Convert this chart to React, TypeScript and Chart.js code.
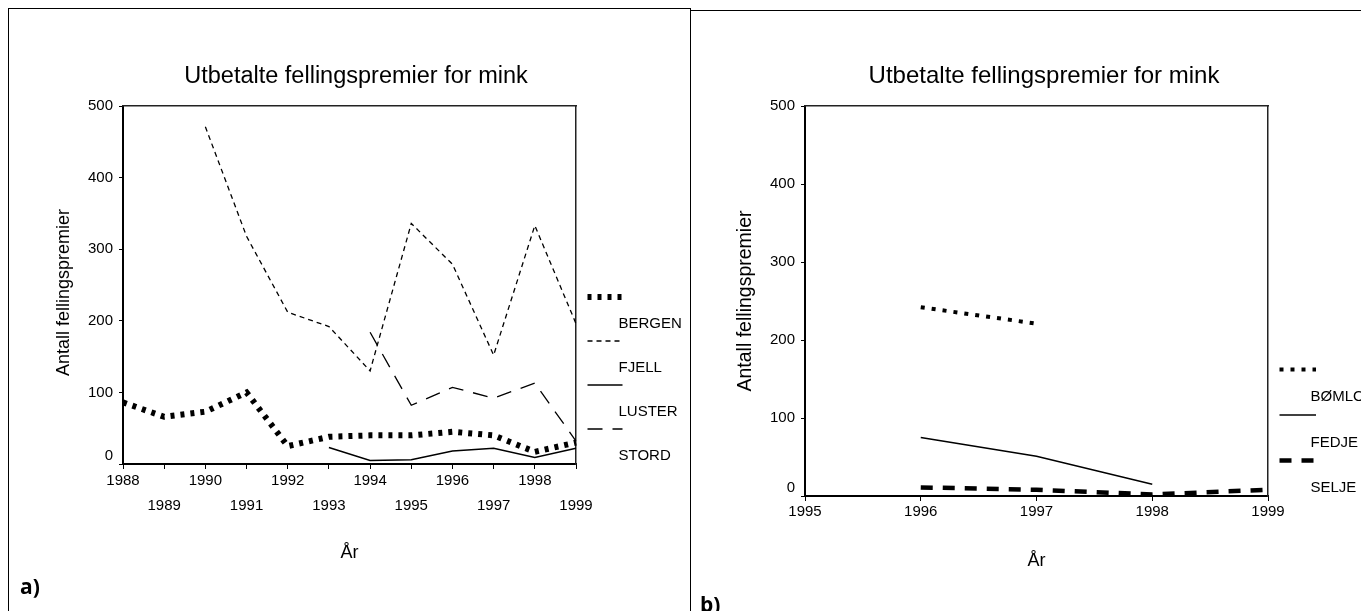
import React, { useEffect, useRef } from 'react';
import { Chart, registerables } from 'chart.js';

Chart.register(...registerables);

const FONT = "'Liberation Sans', Arial, Helvetica, sans-serif";
Chart.defaults.font.family = FONT;
Chart.defaults.color = '#000';

// ---------- texts ----------
const CHART_TITLE = 'Utbetalte fellingspremier for mink';
const Y_AXIS_TITLE = 'Antall fellingspremier';
const X_AXIS_TITLE = 'År';
const Y_MIN = 0;
const Y_MAX = 500;
const Y_STEP = 100;

// ---------- panel a) ----------
const yearsA = ['1988', '1989', '1990', '1991', '1992', '1993', '1994', '1995', '1996', '1997', '1998', '1999'];
const bergenA = [86, 66, 73, 100, 25, 38, 40, 40, 45, 40, 17, 30];
const fjellA = [null, null, 471, 318, 212, 192, 130, 336, 279, 152, 333, 196];
const lusterA = [null, null, null, null, null, 23, 5, 6, 18, 22, 9, 22];
const stordA = [null, null, null, null, null, null, 184, 82, 107, 92, 113, 32];

// ---------- panel b) ----------
const yearsB = ['1995', '1996', '1997', '1998', '1999'];
const bomloB = [null, 242, 221, null, null];
const fedjeB = [null, 75, 51, 15, null];
const seljeB = [null, 11, 8, 2, 8];

const sideLegend = {
  id: 'sideLegend',
  afterDraw(chart: any, _args: any, opts: any) {
    const { ctx, chartArea } = chart;
    const ds = chart.data.datasets;
    const n = ds.length;
    ctx.save();
    ctx.font = `${opts.fontSize}px ${FONT}`;
    ctx.fillStyle = '#000';
    ctx.textBaseline = 'middle';
    ctx.textAlign = 'left';
    ds.forEach((d: any, k: number) => {
      const labelY = chartArea.bottom - opts.bottomGap - (n - 1 - k) * opts.spacing;
      const sampleY = labelY - opts.sampleGap;
      const x0 = chartArea.right + opts.sampleStart;
      ctx.beginPath();
      ctx.setLineDash(d.borderDash || []);
      ctx.lineWidth = d.borderWidth;
      ctx.strokeStyle = d.borderColor;
      ctx.lineCap = 'butt';
      ctx.moveTo(x0, sampleY);
      ctx.lineTo(x0 + opts.sampleLength, sampleY);
      ctx.stroke();
      ctx.setLineDash([]);
      ctx.fillText(d.label, chartArea.right + opts.textStart, labelY);
    });
    ctx.restore();
  },
};

type Series = { label: string; data: (number | null)[]; width: number; dash: number[] };

type PanelCfg = {
  labels: string[];
  series: Series[];
  canvasW: number;
  canvasH: number;
  titleSize: number;
  titleTop: number;
  titleBottom: number;
  yWidth: number;
  yTitle: string;
  yTitleSize: number;
  yTitlePad: number;
  xHeight: number;
  xTickPad: number;
  xLineHeight: number;
  xTitlePad: number;
  twoRows: boolean;
  rightWidth: number;
  legend: any;
};

function buildConfig(p: PanelCfg): any {
  return {
    type: 'line',
    data: {
      labels: p.labels,
      datasets: p.series.map((s) => ({
        label: s.label,
        data: s.data,
        borderColor: '#000',
        backgroundColor: '#000',
        borderWidth: s.width,
        borderDash: s.dash,
        borderCapStyle: 'butt',
        pointRadius: 0,
        pointHoverRadius: 0,
        tension: 0,
        fill: false,
        spanGaps: false,
      })),
    },
    options: {
      responsive: false,
      animation: false,
      events: [],
      layout: { padding: 0 },
      plugins: {
        legend: { display: false },
        tooltip: { enabled: false },
        title: {
          display: true,
          text: CHART_TITLE,
          color: '#000',
          font: { size: p.titleSize, weight: 'normal', family: FONT },
          padding: { top: p.titleTop, bottom: p.titleBottom },
        },
        sideLegend: p.legend,
      },
      scales: {
        x: {
          type: 'category',
          position: 'bottom',
          offset: false,
          grid: { display: true, drawOnChartArea: false, drawTicks: true, tickLength: 5, color: '#000', lineWidth: 1 },
          border: { display: true, color: '#000', width: 2 },
          ticks: {
            autoSkip: false,
            maxRotation: 0,
            minRotation: 0,
            padding: p.xTickPad,
            color: '#000',
            font: { size: 15, lineHeight: p.xLineHeight },
            callback: (_v: any, i: number) => (p.twoRows && i % 2 === 1 ? ['', p.labels[i]] : p.labels[i]),
          },
          title: {
            display: true,
            text: X_AXIS_TITLE,
            color: '#000',
            font: { size: 18 },
            padding: { top: 0, bottom: p.xTitlePad },
          },
          afterFit: (s: any) => {
            s.height = p.xHeight;
          },
        },
        y: {
          type: 'linear',
          position: 'left',
          min: Y_MIN,
          max: Y_MAX,
          grid: { display: true, drawOnChartArea: false, drawTicks: true, tickLength: 4, color: '#000', lineWidth: 1 },
          border: { display: true, color: '#000', width: 2 },
          ticks: {
            stepSize: Y_STEP,
            padding: 6,
            color: '#000',
            font: { size: 15, lineHeight: 1.05 },
            // the zero label sits a little above the axis, as in the original
            callback: (v: any) => (v === 0 ? ['0', ''] : String(v)),
          },
          title: {
            display: true,
            text: p.yTitle,
            color: '#000',
            font: { size: p.yTitleSize },
            padding: { top: p.yTitlePad, bottom: 0 },
          },
          afterFit: (s: any) => {
            s.width = p.yWidth;
          },
        },
        xTop: {
          type: 'linear',
          position: 'top',
          grid: { display: false },
          ticks: { display: false },
          border: { display: true, color: '#222', width: 1.5 },
          afterFit: (s: any) => {
            s.height = 0;
          },
        },
        yRight: {
          type: 'linear',
          position: 'right',
          grid: { display: false },
          ticks: { display: false },
          border: { display: true, color: '#222', width: 1.5 },
          afterFit: (s: any) => {
            s.width = p.rightWidth;
          },
        },
      },
    },
    plugins: [sideLegend],
  };
}

function ChartCanvas({ cfg, left, top }: { cfg: PanelCfg; left: number; top: number }) {
  const ref = useRef<HTMLCanvasElement>(null);
  useEffect(() => {
    const chart = new Chart(ref.current as HTMLCanvasElement, buildConfig(cfg));
    return () => chart.destroy();
  }, []);
  return (
    <canvas
      ref={ref}
      width={cfg.canvasW}
      height={cfg.canvasH}
      style={{ position: 'absolute', left, top, width: cfg.canvasW, height: cfg.canvasH }}
    />
  );
}

const panelA: PanelCfg = {
  labels: yearsA,
  series: [
    { label: 'BERGEN', data: bergenA, width: 6, dash: [4, 6] },
    { label: 'FJELL', data: fjellA, width: 1.3, dash: [5, 4] },
    { label: 'LUSTER', data: lusterA, width: 1.5, dash: [] },
    { label: 'STORD', data: stordA, width: 1.3, dash: [15, 10] },
  ],
  canvasW: 694,
  canvasH: 602,
  titleSize: 23.5,
  titleTop: 53,
  titleBottom: 15.8,
  yWidth: 114,
  yTitle: Y_AXIS_TITLE + '   ',
  yTitleSize: 18,
  yTitlePad: 44,
  xHeight: 147,
  xTickPad: 0,
  xLineHeight: 1.62,
  xTitlePad: 47,
  twoRows: true,
  rightWidth: 127,
  legend: { fontSize: 15, bottomGap: 8, spacing: 44, sampleGap: 27, sampleStart: 11.5, sampleLength: 35, textStart: 42.5 },
};

const panelB: PanelCfg = {
  labels: yearsB,
  series: [
    { label: 'BØMLO', data: bomloB, width: 4, dash: [4, 7] },
    { label: 'FEDJE', data: fedjeB, width: 1.5, dash: [] },
    { label: 'SELJE', data: seljeB, width: 4.5, dash: [12, 10] },
  ],
  canvasW: 706,
  canvasH: 602,
  titleSize: 24,
  titleTop: 52.6,
  titleBottom: 15.6,
  yWidth: 114,
  yTitle: Y_AXIS_TITLE,
  yTitleSize: 19.5,
  yTitlePad: 43,
  xHeight: 115,
  xTickPad: 2,
  xLineHeight: 1.2,
  xTitlePad: 39,
  twoRows: false,
  rightWidth: 129,
  legend: { fontSize: 15, bottomGap: 8, spacing: 45.5, sampleGap: 27.5, sampleStart: 11.5, sampleLength: 36.5, textStart: 42.5 },
};

export default function App() {
  const tag: React.CSSProperties = {
    position: 'absolute',
    fontFamily: "'Open Sans', 'Liberation Sans', sans-serif",
    fontWeight: 700,
    fontSize: 21,
    lineHeight: '21px',
    color: '#000',
  };
  return (
    <div style={{ position: 'fixed', left: 0, top: 0, width: 1361, height: 611, overflow: 'hidden', background: '#fff' }}>
      <div style={{ position: 'absolute', left: 8, top: 8, width: 681, height: 700, border: '1px solid #000' }} />
      <div style={{ position: 'absolute', left: 690, top: 10, width: 700, height: 700, border: '1px solid #000' }} />
      <ChartCanvas cfg={panelA} left={9} top={9} />
      <ChartCanvas cfg={panelB} left={691} top={9} />
      <div style={{ ...tag, left: 20, top: 576 }}>a)</div>
      <div style={{ ...tag, left: 700, top: 594 }}>b)</div>
    </div>
  );
}
